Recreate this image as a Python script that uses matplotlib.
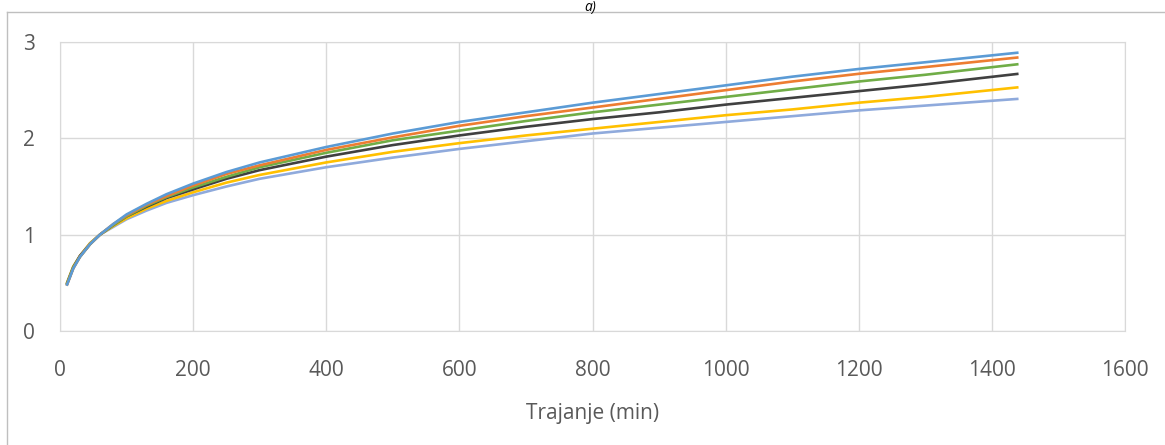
import matplotlib.pyplot as plt
from matplotlib.lines import Line2D

plt.rcParams["font.family"] = ["Open Sans", "DejaVu Sans"]

# vrijeme (min)
t = [10, 20, 30, 45, 60, 80, 100, 130, 160, 200, 250, 300, 400, 500,
     600, 700, 800, 900, 1000, 1100, 1200, 1300, 1440]

s_blue = [0.47, 0.65, 0.77, 0.90, 1.00, 1.11, 1.21, 1.32, 1.42, 1.53, 1.65, 1.75,
          1.91, 2.05, 2.17, 2.27, 2.37, 2.46, 2.55, 2.64, 2.72, 2.79, 2.89]
s_orange = [0.47, 0.65, 0.77, 0.90, 1.00, 1.11, 1.20, 1.31, 1.40, 1.51, 1.63, 1.72,
            1.88, 2.01, 2.13, 2.23, 2.32, 2.41, 2.50, 2.59, 2.67, 2.74, 2.84]
s_green = [0.48, 0.66, 0.77, 0.90, 1.00, 1.10, 1.19, 1.30, 1.39, 1.49, 1.60, 1.70,
           1.85, 1.98, 2.08, 2.18, 2.27, 2.35, 2.43, 2.51, 2.59, 2.66, 2.77]
s_black = [0.48, 0.66, 0.78, 0.90, 1.00, 1.10, 1.19, 1.29, 1.38, 1.47, 1.58, 1.67,
           1.81, 1.93, 2.03, 2.12, 2.20, 2.27, 2.35, 2.42, 2.49, 2.56, 2.67]
s_yellow = [0.49, 0.67, 0.78, 0.91, 1.00, 1.09, 1.17, 1.27, 1.35, 1.44, 1.54, 1.62,
            1.75, 1.86, 1.95, 2.03, 2.10, 2.17, 2.24, 2.30, 2.37, 2.43, 2.53]
s_lightblue = [0.49, 0.67, 0.78, 0.91, 1.00, 1.08, 1.16, 1.25, 1.33, 1.41, 1.50, 1.58,
               1.70, 1.80, 1.89, 1.97, 2.05, 2.11, 2.17, 2.23, 2.29, 2.34, 2.41]

series = [
    (s_lightblue, "#8FAADC"),
    (s_yellow, "#FFC000"),
    (s_black, "#404040"),
    (s_green, "#70AD47"),
    (s_orange, "#ED7D31"),
    (s_blue, "#5B9BD5"),
]

fig = plt.figure(figsize=(11.65, 4.45), dpi=100)
ax = fig.add_axes([0.0515, 0.2562, 0.9142, 0.6494])

for vals, col in series:
    ax.plot(t, vals, color=col, lw=1.9, solid_capstyle="butt")

ax.set_xlim(0, 1600)
ax.set_ylim(0, 3)
ax.set_xticks(range(0, 1601, 200))
ax.set_yticks([0, 1, 2, 3])
ax.grid(True, color="#D9D9D9", lw=1)
ax.set_axisbelow(True)
for sp in ax.spines.values():
    sp.set_color("#D9D9D9")
ax.tick_params(length=0, colors="#595959", labelsize=15)
ax.tick_params(axis="x", pad=21)
ax.tick_params(axis="y", pad=18)
ax.set_xlabel("Trajanje (min)", color="#595959", fontsize=15, labelpad=16)

# okvir grafikona
fig.add_artist(Line2D([7 / 1165, 7 / 1165], [0, 1 - 12 / 445], color="#BFBFBF", lw=1))
fig.add_artist(Line2D([7 / 1165, 1], [1 - 12 / 445, 1 - 12 / 445], color="#BFBFBF", lw=1))
fig.text(0.507, 0.999, "a)", ha="center", va="top", fontsize=10, style="italic")

plt.savefig("out.png", dpi=100)
